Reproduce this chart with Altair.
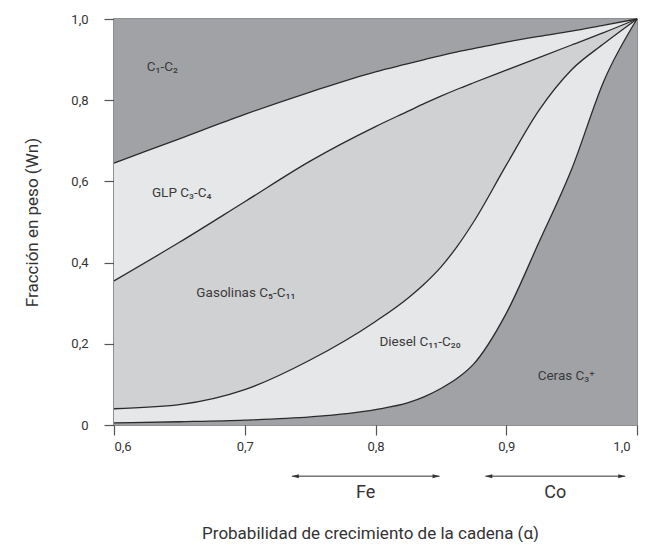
import altair as alt
import pandas as pd

# Chain growth probability (x) and cumulative weight-fraction boundaries
alpha = [0.60, 0.65, 0.70, 0.75, 0.80, 0.825, 0.8375, 0.85, 0.8625, 0.875, 0.90, 0.925, 0.95, 0.975, 1.00]
bound_c1c2 = [0.645, 0.705, 0.765, 0.82, 0.87, 0.89, 0.90, 0.91, 0.919, 0.927, 0.943, 0.957, 0.970, 0.985, 1.0]
bound_glp = [0.355, 0.45, 0.55, 0.65, 0.735, 0.773, 0.792, 0.81, 0.827, 0.843, 0.874, 0.905, 0.936, 0.967, 1.0]
bound_gas = [0.04, 0.05, 0.087, 0.16, 0.255, 0.313, 0.348, 0.389, 0.44, 0.50, 0.64, 0.775, 0.875, 0.94, 1.0]
bound_diesel = [0.005, 0.008, 0.012, 0.02, 0.038, 0.055, 0.07, 0.09, 0.115, 0.15, 0.275, 0.45, 0.63, 0.85, 1.0]

band_names = ["C1-C2", "GLP", "Gasolinas", "Diesel", "Ceras"]
band_colors = ["#a1a2a6", "#e6e7e8", "#d0d1d3", "#e6e7e8", "#a1a2a6"]

label_text = ["C₁-C₂", "GLP C₃-C₄", "Gasolinas C₅-C₁₁", "Diesel C₁₁-C₂₀", "Ceras C₃⁺"]
label_x = [0.625, 0.629, 0.663, 0.803, 0.924]
label_y = [0.882, 0.571, 0.325, 0.204, 0.12]

metal_names = ["Fe", "Co"]
metal_start = [0.736, 0.884]
metal_end = [0.849, 0.991]
arrow_level = -0.126
metal_label_level = -0.168

x_ticks = [0.6, 0.7, 0.8, 0.9, 1.0]
y_ticks = [0.0, 0.2, 0.4, 0.6, 0.8, 1.0]

FONT = "Roboto"
INK = "#333333"

# ---- tables ----
lows = [bound_c1c2, bound_glp, bound_gas, bound_diesel, [0.0] * len(alpha)]
highs = [[1.0] * len(alpha), bound_c1c2, bound_glp, bound_gas, bound_diesel]
rows = []
for name, lo, hi in zip(band_names, lows, highs):
    for a, l, h in zip(alpha, lo, hi):
        rows.append({"band": name, "alpha": a, "lo": l, "hi": h})
bands_df = pd.DataFrame(rows)

line_rows = []
for cname, vals in zip(["A", "B", "C", "D"], [bound_c1c2, bound_glp, bound_gas, bound_diesel]):
    for a, v in zip(alpha, vals):
        line_rows.append({"curve": cname, "alpha": a, "v": v})
lines_df = pd.DataFrame(line_rows)

labels_df = pd.DataFrame({"text": label_text, "alpha": label_x, "v": label_y})

arrows_df = pd.DataFrame({"metal": metal_names, "x1": metal_start, "x2": metal_end,
                          "y": [arrow_level] * 2,
                          "xm": [(a + b) / 2 for a, b in zip(metal_start, metal_end)],
                          "ym": [metal_label_level] * 2})
heads_df = pd.DataFrame({
    "alpha": metal_start + metal_end,
    "v": [arrow_level] * 4,
    "dir": ["left", "left", "right", "right"],
})

xscale = alt.Scale(domain=[0.6, 1.0], nice=False, zero=False)
yscale = alt.Scale(domain=[0.0, 1.0], nice=False)

x_axis = alt.Axis(
    values=x_ticks,
    labelExpr="replace(format(datum.value, '.1f'), '.', ',')",
    labelOffset={"condition": {"test": "datum.value >= 0.99", "value": -7}, "value": 0},
    title="Probabilidad de crecimiento de la cadena (α)",
    titleX=256, titleY=113, titleBaseline="alphabetic", titleAlign="center",
    titleFontSize=17, titleFontWeight="normal", titleColor=INK, titleFont=FONT,
    labelPadding=5,
)
y_axis = alt.Axis(
    values=y_ticks,
    labelExpr="datum.value == 0 ? '0' : replace(format(datum.value, '.1f'), '.', ',')",
    title="Fracción en peso (Wn)",
    titleX=-82, titleY=203, titleBaseline="middle", titleAlign="center", titleAngle=270,
    titleFontSize=17, titleFontWeight="normal", titleColor=INK, titleFont=FONT,
    labelPadding=16,
)

areas = alt.Chart(bands_df).mark_area(interpolate="monotone").encode(
    x=alt.X("alpha:Q", scale=xscale, axis=x_axis),
    y=alt.Y("lo:Q", scale=yscale, axis=y_axis),
    y2="hi:Q",
    color=alt.Color("band:N", scale=alt.Scale(domain=band_names, range=band_colors), legend=None),
    detail="band:N",
)

lines = alt.Chart(lines_df).mark_line(interpolate="monotone", color="#2a2a2a", strokeWidth=1.3).encode(
    x="alpha:Q", y="v:Q", detail="curve:N"
)

labels = alt.Chart(labels_df).mark_text(
    align="left", baseline="middle", fontSize=13.5, font=FONT, color="#3a3a3a"
).encode(x="alpha:Q", y="v:Q", text="text:N")

arrow_lines = alt.Chart(arrows_df).mark_rule(color=INK, strokeWidth=1).encode(
    x="x1:Q", x2="x2:Q", y="y:Q"
)
heads = alt.Chart(heads_df).mark_point(filled=True, size=16, opacity=1, color=INK).encode(
    x="alpha:Q", y="v:Q",
    shape=alt.Shape("dir:N", scale=alt.Scale(
        domain=["left", "right"],
        range=["M0,0L3.5,-1L3.5,1Z", "M0,0L-3.5,-1L-3.5,1Z"]), legend=None),
)
metal_text = alt.Chart(arrows_df).mark_text(
    align="center", baseline="middle", fontSize=18, font=FONT, color=INK
).encode(x="xm:Q", y="ym:Q", text="metal:N")

chart = alt.layer(areas, lines, labels, arrow_lines, heads, metal_text).properties(
    width=523, height=406,
    padding={"left": 106, "top": 11, "right": 2, "bottom": 117},
    autosize=alt.AutoSizeParams(type="none"),
).configure_view(
    stroke="#6a6b6e", strokeWidth=1.5
).configure_axis(
    grid=False, domain=False, tickColor="#555555", tickWidth=1.2, tickSize=10,
    labelColor=INK, labelFont=FONT, labelFontSize=13,
)

chart.save("out.html", embed_options={"renderer": "svg", "actions": False})
